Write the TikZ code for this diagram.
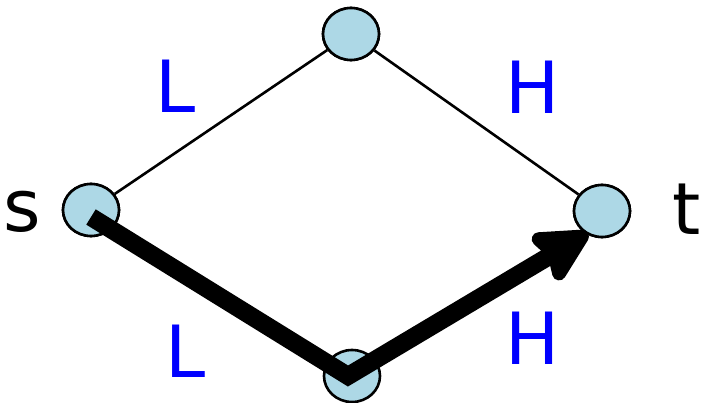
\documentclass[tikz,border=0pt]{standalone}
\usepackage{fontspec}
\setmainfont{DejaVu Sans}
\usetikzlibrary{shapes.geometric,arrows.meta,calc}
\definecolor{nodeblue}{RGB}{173,216,230}
\definecolor{labblue}{RGB}{0,0,255}
\tikzset{
  vert/.style={ellipse, draw=black, line width=2.6pt, fill=nodeblue, minimum width=56pt, minimum height=52pt, inner sep=0pt},
  thinedge/.style={draw=black, line width=2.6pt},
  thickpath/.style={draw=black, line width=18pt, -{Stealth[length=64pt,width=64pt,inset=9pt,round]}},
  biglab/.style={inner sep=0pt, font=\fontsize{72}{80}\selectfont},
  wlab/.style={biglab, text=labblue}
}
\begin{document}
\begin{tikzpicture}[x=1pt,y=-1pt]
\useasboundingbox (0,0) rectangle (710,403);
\node[vert] (s) at (91,210) {};
\node[vert] (top) at (351,34) {};
\node[vert] (bot) at (352,376) {};
\node[vert] (t) at (602,211) {};
\draw[thinedge] (s) -- (top);
\draw[thinedge] (top) -- (t);
\node[vert] at (s) {};
\node[vert] at (top) {};
\node[vert] at (t) {};
\draw[thickpath] ($(s.center)+(0,7)$) -- ($(bot.center)+(-4,0)$) -- ($(t.center)+(-14,22)$);
\node[biglab] (ls) at (22,212) {s};
\node[biglab] (lt) at (687,209) {t};
\node[wlab] (l1) at (176,86) {L};
\node[wlab] (h1) at (533,87) {H};
\node[wlab] (l2) at (186,351) {L};
\node[wlab] (h2) at (533,338) {H};
\end{tikzpicture}
\end{document}
